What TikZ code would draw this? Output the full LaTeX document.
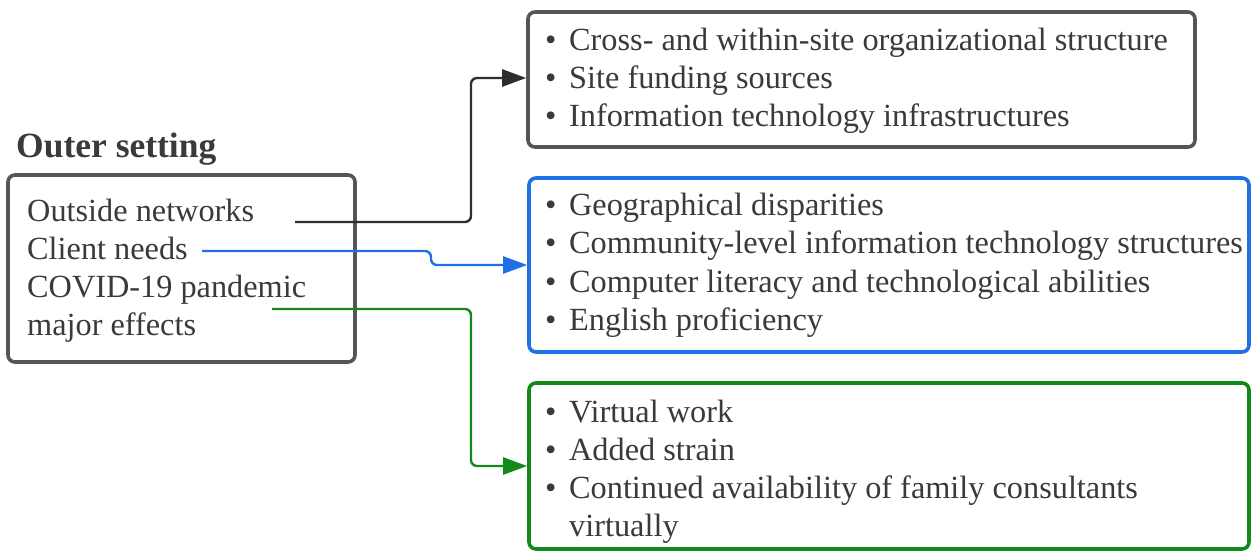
\documentclass[tikz,border=0pt]{standalone}
\usepackage{fontspec}
\setmainfont{Liberation Serif}
\usetikzlibrary{arrows.meta}
\definecolor{txt}{HTML}{3A3A3A}
\definecolor{graybox}{HTML}{555555}
\definecolor{bluec}{HTML}{1F6FE5}
\definecolor{greenc}{HTML}{13891A}
\definecolor{darkline}{HTML}{2E2E2E}
\newcommand{\bodyfont}{\fontsize{32.3}{38}\selectfont}
\newcommand{\bul}{\makebox[24pt][l]{\textbullet}}
\begin{document}
\begin{tikzpicture}[x=1pt,y=-1pt,
  box/.style={draw, line width=3.6pt, rounded corners=7pt, inner sep=0pt, fill=white},
  line/.style={anchor=base west, inner sep=0pt, font=\bodyfont, text=txt},
  conn/.style={line width=2.4pt, rounded corners=6pt, -{Triangle[length=24pt,width=17pt]}}]
\useasboundingbox (0,0) rectangle (1251,552);
% boxes
\node[box, draw=graybox, minimum width=347pt, minimum height=187pt] (outer) at (181.5,268.5) {};
\node[box, draw=graybox, minimum width=667pt, minimum height=135pt] (top) at (861.5,79.5) {};
\node[box, draw=bluec, minimum width=720pt, minimum height=174pt] (blue) at (889,265) {};
\node[box, draw=greenc, minimum width=720pt, minimum height=166pt] (green) at (889,466) {};
% title
\node[line, font=\fontsize{35.5}{38}\selectfont\bfseries] (title) at (16,157) {Outer setting};
% left text
\node[line] (l1) at (27,221) {Outside networks};
\node[line] (l2) at (27,259) {Client needs};
\node[line] (l3) at (27,297) {COVID-19 pandemic};
\node[line] (l4) at (27,335) {major effects};
% top box
\node[line] (t1) at (545,50) {\bul Cross- and within-site organizational structure};
\node[line] (t2) at (545,88) {\bul Site funding sources};
\node[line] (t3) at (545,126) {\bul Information technology infrastructures};
% blue box
\node[line] (b1) at (545,215) {\bul Geographical disparities};
\node[line] (b2) at (545,253) {\bul Community-level information technology structures};
\node[line] (b3) at (545,292) {\bul Computer literacy and technological abilities};
\node[line] (b4) at (545,330) {\bul English proficiency};
% green box
\node[line] (g1) at (545,422) {\bul Virtual work};
\node[line] (g2) at (545,460) {\bul Added strain};
\node[line] (g3) at (545,498) {\bul Continued availability of family consultants};
\node[line] (g4) at (569,536) {virtually};
% connectors
\coordinate (s1) at (295,222);
\coordinate (j1) at (471,78);
\coordinate (s2) at (202,251);
\coordinate (k1) at (431,251);
\coordinate (k2) at (431,265);
\coordinate (s3) at (272,309);
\coordinate (h1) at (471,466);
\draw[conn, draw=darkline] (s1) -| (j1) -- (top.west |- j1);
\draw[conn, draw=bluec] (s2) -- (k1) -- (k2) -- (blue.west);
\draw[conn, draw=greenc] (s3) -| (h1) -- (green.west);
\end{tikzpicture}
\end{document}
